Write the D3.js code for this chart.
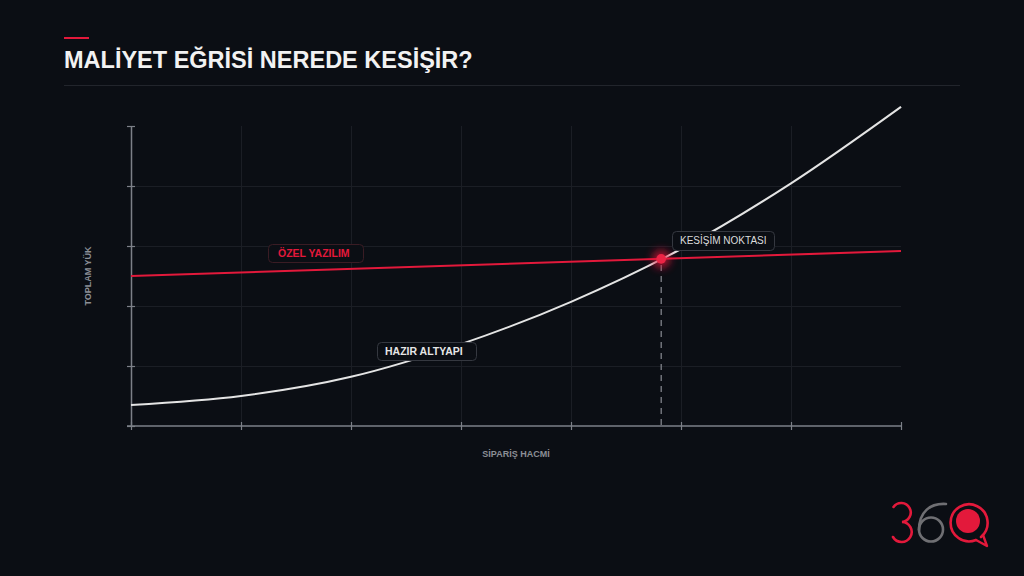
<!DOCTYPE html>
<html>
<head>
<meta charset="utf-8">
<script src="https://cdn.jsdelivr.net/npm/d3@7"></script>
<style>
  html, body { margin: 0; padding: 0; background: #0b0e14; }
  svg { display: block; }
</style>
</head>
<body>
<svg id="chart" width="1024" height="576"></svg>
<script>
// ---- data ----
const titleText = "MALİYET EĞRİSİ NEREDE KESİŞİR?";
const xTicks = [0, 1, 2, 3, 4, 5, 6, 7];
const yTicks = [0, 20, 40, 60, 80, 100];
const readyVolume = [0, 1, 2, 3, 4, 5, 6, 7];
const readyCost = [7, 10, 16.4, 27.3, 41.4, 59, 80.9, 106.4];
const customVolume = [0, 7];
const customCost = [50, 58.3];
const crossPoint = [4.82, 55.7];
const labelCustom = "ÖZEL YAZILIM";
const labelReady = "HAZIR ALTYAPI";
const labelCross = "KESİŞİM NOKTASI";
const xAxisLabel = "SİPARİŞ HACMİ";
const yAxisLabel = "TOPLAM YÜK";

const svg = d3.select("#chart");
const W = 1024, H = 576;
const font = "'Liberation Sans', Arial, sans-serif";
const bg = "#0b0e14";
const red = "#e3193b";

svg.append("rect").attr("width", W).attr("height", H).attr("fill", bg);

// header
svg.append("rect").attr("x", 64).attr("y", 37).attr("width", 25).attr("height", 2).attr("fill", red);
svg.append("text").attr("x", 64).attr("y", 68)
  .attr("font-family", font).attr("font-weight", "bold").attr("font-size", 23.5)
  .attr("fill", "#f2f2f2").text(titleText);
svg.append("line").attr("x1", 64).attr("x2", 960).attr("y1", 85.5).attr("y2", 85.5)
  .attr("stroke", "#22252c").attr("stroke-width", 1);

// scales
const x = d3.scaleLinear().domain([0, 7]).range([131, 901]);
const y = d3.scaleLinear().domain([0, 100]).range([426, 126]);

// defs (glow)
const defs = svg.append("defs");
const f = defs.append("filter").attr("id", "glow").attr("x", "-200%").attr("y", "-200%").attr("width", "500%").attr("height", "500%");
f.append("feGaussianBlur").attr("stdDeviation", 4);

// grid
const grid = svg.append("g");
grid.selectAll(".vg").data(xTicks.slice(1, -1)).join("line")
  .attr("x1", d => x(d) + 0.5).attr("x2", d => x(d) + 0.5)
  .attr("y1", y(100)).attr("y2", y(0))
  .attr("stroke", "#1b1e25").attr("stroke-width", 1);
grid.selectAll(".hg").data(yTicks.slice(1, -1)).join("line")
  .attr("x1", x(0)).attr("x2", x(7))
  .attr("y1", d => y(d) + 0.5).attr("y2", d => y(d) + 0.5)
  .attr("stroke", "#1b1e25").attr("stroke-width", 1);

// axes
const axisColor = "#7d8088";
const gx = svg.append("g").attr("transform", `translate(0,${y(0)})`)
  .call(d3.axisBottom(x).tickValues(xTicks).tickSize(4).tickSizeOuter(0).tickFormat(""));
const gy = svg.append("g").attr("transform", `translate(${x(0)},0)`)
  .call(d3.axisLeft(y).tickValues(yTicks).tickSize(4).tickSizeOuter(0).tickFormat(""));
[gx, gy].forEach(g => {
  g.select(".domain").attr("stroke", axisColor).attr("stroke-width", 1.5);
  g.selectAll(".tick line").attr("stroke", axisColor).attr("stroke-width", 1.2);
});
gx.selectAll(".tick line").attr("y1", -4).attr("y2", 4);
gy.selectAll(".tick line").attr("x1", -4).attr("x2", 4);
gx.select(".domain").attr("d", `M${x(0) - 4},0H${x(7)}`);

// axis labels
svg.append("text").attr("x", (x(0) + x(7)) / 2).attr("y", 457)
  .attr("text-anchor", "middle").attr("font-family", font).attr("font-weight", "bold")
  .attr("font-size", 9).attr("fill", "#8c8f96").text(xAxisLabel);
svg.append("text").attr("transform", `translate(91,${(y(0) + y(100)) / 2}) rotate(-90)`)
  .attr("text-anchor", "middle").attr("font-family", font).attr("font-weight", "bold")
  .attr("font-size", 9).attr("fill", "#8c8f96").text(yAxisLabel);

// lines
const readyData = readyVolume.map((v, i) => [v, readyCost[i]]);
const customData = customVolume.map((v, i) => [v, customCost[i]]);
const line = d3.line().x(d => x(d[0])).y(d => y(d[1])).curve(d3.curveMonotoneX);

// dashed drop line
svg.append("line").attr("x1", x(crossPoint[0])).attr("x2", x(crossPoint[0]))
  .attr("y1", y(crossPoint[1]) + 6).attr("y2", y(0))
  .attr("stroke", "#80838a").attr("stroke-width", 1.3).attr("stroke-dasharray", "6,5");

svg.append("path").datum(customData).attr("d", line)
  .attr("fill", "none").attr("stroke", red).attr("stroke-width", 2);
svg.append("path").datum(readyData).attr("d", line)
  .attr("fill", "none").attr("stroke", "#e4e4e4").attr("stroke-width", 2);

// intersection marker
svg.append("circle").attr("cx", x(crossPoint[0])).attr("cy", y(crossPoint[1])).attr("r", 9)
  .attr("fill", red).attr("opacity", 0.75).attr("filter", "url(#glow)");
svg.append("circle").attr("cx", x(crossPoint[0])).attr("cy", y(crossPoint[1])).attr("r", 4.8)
  .attr("fill", "#ec2445");

// labels
function tag(x0, y0, w, h, text, opts) {
  svg.append("rect").attr("x", x0 + 0.5).attr("y", y0 + 0.5).attr("width", w).attr("height", h)
    .attr("rx", 4).attr("fill", bg).attr("stroke", opts.stroke).attr("stroke-width", 1);
  svg.append("text").attr("x", x0 + opts.pad).attr("y", y0 + h / 2 + 3.8)
    .attr("font-family", font).attr("font-weight", opts.weight).attr("font-size", opts.size)
    .attr("fill", opts.color).text(text);
}
tag(268, 244, 95, 18, labelCustom, { stroke: "#3a1c24", color: red, weight: "bold", size: 10.5, pad: 10 });
tag(377, 342, 99, 18, labelReady, { stroke: "#353840", color: "#e6e6e6", weight: "bold", size: 10.5, pad: 8 });
tag(672, 231, 102, 19, labelCross, { stroke: "#353840", color: "#dcdcdc", weight: "normal", size: 10, pad: 8 });

// logo 360
const logo = svg.append("g").attr("fill", "none").attr("stroke-linecap", "round");
logo.append("path").attr("d", "M893.5,507 A9.5,9.5 0 1 1 902,522 A10,10 0 1 1 893,537")
  .attr("stroke", red).attr("stroke-width", 2.6);
logo.append("circle").attr("cx", 931).attr("cy", 529.5).attr("r", 12)
  .attr("stroke", "#6f6f73").attr("stroke-width", 2.6);
logo.append("path").attr("d", "M919,530 C919,512 930,503 946,504")
  .attr("stroke", "#6f6f73").attr("stroke-width", 2.6);
logo.append("path").attr("d", "M981,537 A18.5,18.5 0 1 0 976,540")
  .attr("stroke", red).attr("stroke-width", 2.6);
logo.append("path").attr("d", "M976,540 L987,546 L983,535")
  .attr("stroke", red).attr("stroke-width", 2.4).attr("stroke-linejoin", "round");
logo.append("circle").attr("cx", 968).attr("cy", 521).attr("r", 12).attr("fill", red).attr("stroke", "none");
</script>
</body>
</html>
